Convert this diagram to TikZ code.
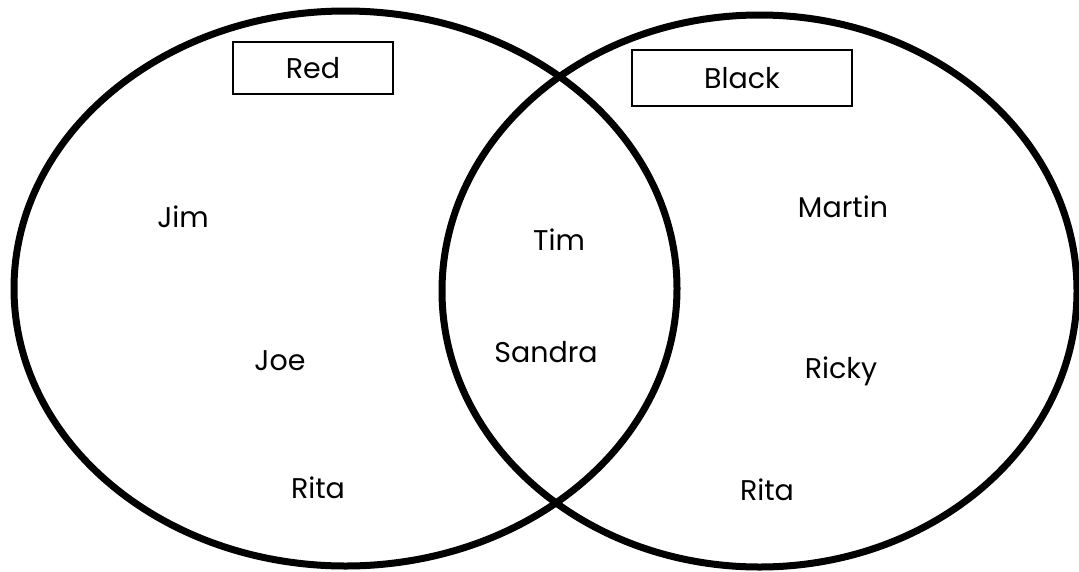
\documentclass[tikz,border=0pt]{standalone}
\usepackage{fontspec}
\setmainfont{Poppins}
\usetikzlibrary{shapes.geometric}
\tikzset{
  setring/.style={
    draw=black,
    ellipse,
    line width=7pt,
    inner sep=0pt,
    outer sep=0pt
  },
  setlabel/.style={
    draw=black,
    line width=1.4pt,
    inner sep=0pt,
    font=\fontsize{28.5}{33}\selectfont
  },
  member/.style={font=\fontsize{28.5}{33}\selectfont, anchor=base}
}
\begin{document}
\begin{tikzpicture}[x=1pt, y=-1pt]
  \useasboundingbox (0,0) rectangle (1079,571);

  % the two sets
  \node[setring, minimum width=663pt, minimum height=555pt] (redset) at (345.5,288.5) {};
  \node[setring, minimum width=635pt, minimum height=552pt] (blackset) at (759.5,291) {};

  % set titles
  \node[setlabel, minimum width=160pt, minimum height=52pt] (redtitle) at (313,68) {Red};
  \node[setlabel, minimum width=220pt, minimum height=56pt] (blacktitle) at (742,78) {Black};

  % red only
  \node[member] (jim) at (183,227) {Jim};
  \node[member] (joe) at (280,370) {Joe};
  \node[member] (ritared) at (318,498) {Rita};

  % both
  \node[member] (tim) at (559,250) {Tim};
  \node[member] (sandra) at (546,362) {Sandra};

  % black only
  \node[member] (martin) at (843,217) {Martin};
  \node[member] (ricky) at (841,378) {Ricky};
  \node[member] (ritablack) at (767,500) {Rita};
\end{tikzpicture}
\end{document}
